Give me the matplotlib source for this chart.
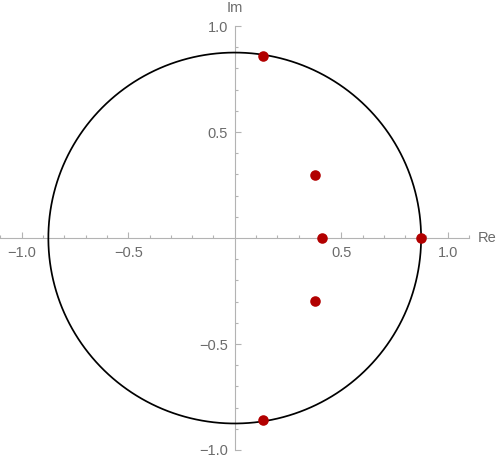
import numpy as np
import matplotlib
matplotlib.use("Agg")
import matplotlib.pyplot as plt

# circle radius and plotted roots
RADIUS = 0.875
re_vals = [0.133, 0.133, 0.378, 0.378, 0.411, 0.873]
im_vals = [0.86, -0.86, 0.295, -0.295, 0.0, 0.0]

major_ticks = [-1.0, -0.5, 0.5, 1.0]
major_labels = ["\u22121.0", "\u22120.5", "0.5", "1.0"]
x_minor = [-1.1, -0.9, -0.8, -0.7, -0.6, -0.4, -0.3, -0.2, -0.1,
           0.1, 0.2, 0.3, 0.4, 0.6, 0.7, 0.8, 0.9, 1.1]
y_minor = [-0.9, -0.8, -0.7, -0.6, -0.4, -0.3, -0.2, -0.1,
           0.1, 0.2, 0.3, 0.4, 0.6, 0.7, 0.8, 0.9]

AXIS_GRAY = "#b3b3b3"
TEXT_GRAY = "#6b6b6b"
DOT_RED = "#b20000"

plt.rcParams["font.family"] = ["Liberation Sans", "DejaVu Sans"]

fig = plt.figure(figsize=(4.98, 4.61), dpi=100)
ax = fig.add_axes([0, 0, 1, 1])
ax.set_xlim(-1.102, 1.236)
ax.set_ylim(-1.052, 1.123)

t = np.linspace(0, 2 * np.pi, 400)
ax.plot(RADIUS * np.cos(t), RADIUS * np.sin(t), color="black", lw=1.25, zorder=3)
ax.plot(re_vals, im_vals, "o", color=DOT_RED, ms=7.6, mec="none", zorder=4)

for side in ["top", "right"]:
    ax.spines[side].set_visible(False)
ax.spines["left"].set_position(("data", 0))
ax.spines["bottom"].set_position(("data", 0))
ax.spines["bottom"].set_bounds(-1.1, 1.1)
ax.spines["left"].set_bounds(-1.0, 1.0)
for side in ["left", "bottom"]:
    ax.spines[side].set_color(AXIS_GRAY)
    ax.spines[side].set_linewidth(0.8)

ax.set_xticks(major_ticks)
ax.set_xticklabels(major_labels)
ax.set_yticks(major_ticks)
ax.set_yticklabels(major_labels)
ax.set_xticks(x_minor, minor=True)
ax.set_yticks(y_minor, minor=True)
ax.tick_params(which="both", direction="in", color=AXIS_GRAY, width=0.8,
               labelcolor=TEXT_GRAY, labelsize=10.5)
ax.tick_params(which="major", length=4.5)
ax.tick_params(which="minor", length=2.5)
ax.tick_params(axis="x", which="major", pad=6)
ax.tick_params(axis="y", which="major", pad=5)

ax.text(1.142, 0.0, "Re", color=TEXT_GRAY, fontsize=10.5, va="center", ha="left")
ax.text(0.0, 1.083, "Im", color=TEXT_GRAY, fontsize=10.5, va="center", ha="center")

fig.savefig("out.png", dpi=100)
